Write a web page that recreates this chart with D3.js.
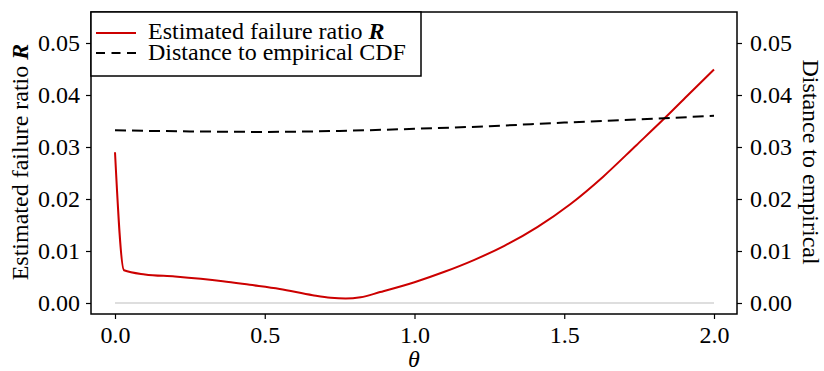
<!DOCTYPE html>
<html><head><meta charset="utf-8">
<script src="https://cdn.jsdelivr.net/npm/d3@7"></script>
<style>
html,body{margin:0;padding:0;background:#fff;}
svg text{font-family:"Liberation Serif","Times New Roman",Tinos,serif;}
</style></head>
<body>
<svg id="chart" width="824" height="371"></svg>
<script>
// ---- data ----
const thetaRed = [0.0, 0.03, 0.1, 0.2, 0.36, 0.45, 0.55, 0.66, 0.72, 0.77, 0.82, 0.885, 1.0, 1.1, 1.2, 1.3, 1.41, 1.52, 1.63, 1.74, 1.84, 1.91, 2.0];
const failureRatio = [0.0290, 0.0063, 0.0055, 0.0051, 0.0042, 0.0035, 0.0027, 0.0015, 0.0010, 0.00085, 0.0011, 0.0021, 0.0040, 0.0060, 0.0083, 0.0110, 0.0146, 0.0190, 0.0243, 0.0303, 0.0358, 0.0398, 0.0449];
const thetaDist = [0.0, 0.25, 0.5, 0.75, 1.0, 1.25, 1.5, 1.75, 2.0];
const distanceCDF = [0.0332, 0.0330, 0.0329, 0.0331, 0.0335, 0.0340, 0.0347, 0.0353, 0.0360];
const xTicks = [0.0, 0.5, 1.0, 1.5, 2.0];
const yTicks = [0.00, 0.01, 0.02, 0.03, 0.04, 0.05];
const legendLabels = ["Estimated failure ratio", "Distance to empirical CDF"];

const svg = d3.select("#chart");
const L = 91, R = 737, T = 12, B = 314;
const x = d3.scaleLinear().domain([0, 2]).range([115, 714]);
const y = d3.scaleLinear().domain([0, 0.05]).range([303, 43]);
const yR = y.copy();
const FS = 24;

// zero reference line
svg.append("line").attr("x1", x(0)).attr("x2", x(2)).attr("y1", y(0)).attr("y2", y(0))
  .attr("stroke", "#bdbdbd").attr("stroke-width", 1.2);

// lines
const lineRed = d3.line().x((d,i)=>x(thetaRed[i])).y(d=>y(d)).curve(d3.curveMonotoneX);
svg.append("path").datum(failureRatio).attr("d", lineRed)
  .attr("fill","none").attr("stroke","#cc0000").attr("stroke-width",2);
const lineDist = d3.line().x((d,i)=>x(thetaDist[i])).y(d=>yR(d)).curve(d3.curveMonotoneX);
svg.append("path").datum(distanceCDF).attr("d", lineDist)
  .attr("fill","none").attr("stroke","#000").attr("stroke-width",2).attr("stroke-dasharray","11,6");

// frame
svg.append("rect").attr("x",L).attr("y",T).attr("width",R-L).attr("height",B-T)
  .attr("fill","none").attr("stroke","#000").attr("stroke-width",1.5);

// axes
function styleAxis(g){
  g.attr("font-family",null).attr("font-size",null);
  g.select(".domain").remove();
  g.selectAll(".tick line").attr("stroke","#000").attr("stroke-width",1.2);
  g.selectAll(".tick text").attr("font-size",FS).attr("fill","#000");
}
svg.append("g").attr("transform",`translate(0,${B})`)
  .call(d3.axisBottom(x).tickValues(xTicks).tickFormat(d3.format(".1f")).tickSize(5).tickPadding(7))
  .call(styleAxis);
svg.append("g").attr("transform",`translate(${L},0)`)
  .call(d3.axisLeft(y).tickValues(yTicks).tickFormat(d3.format(".2f")).tickSize(5).tickPadding(6))
  .call(styleAxis);
svg.append("g").attr("transform",`translate(${R},0)`)
  .call(d3.axisRight(yR).tickValues(yTicks).tickFormat(d3.format(".2f")).tickSize(5).tickPadding(8))
  .call(styleAxis);

// helper: plain text followed by bold-italic "R" as a separate text element
function labelWithR(g, str){
  const a = g.append("text").attr("x",0).attr("y",0).attr("font-size",FS).attr("fill","#000").text(str);
  const w = a.node().getComputedTextLength() + FS*0.25;
  const b = g.append("text").attr("x",w).attr("y",0).attr("font-size",FS).attr("fill","#000")
    .attr("font-weight","bold").attr("font-style","italic").text("R");
  return w + b.node().getComputedTextLength();
}

// left axis title
const ylg = svg.append("g");
const ylw = labelWithR(ylg, legendLabels[0]);
ylg.attr("transform",`translate(28,${162 + ylw/2}) rotate(-90)`);

// right axis title
svg.append("text").attr("transform","translate(803,162) rotate(90)")
  .attr("text-anchor","middle").attr("font-size",FS).attr("fill","#000").text("Distance to empirical");
// x axis title
svg.append("text").attr("x",414).attr("y",367).attr("text-anchor","middle")
  .attr("font-size",FS).attr("font-style","italic").attr("fill","#000").text("θ");

// legend
const lg = svg.append("g");
lg.append("rect").attr("x",L).attr("y",T).attr("width",421-L).attr("height",76-T)
  .attr("fill","#fff").attr("stroke","#000").attr("stroke-width",1.5);
lg.append("line").attr("x1",96).attr("x2",136).attr("y1",33).attr("y2",33)
  .attr("stroke","#cc0000").attr("stroke-width",2);
lg.append("line").attr("x1",96).attr("x2",136).attr("y1",53).attr("y2",53)
  .attr("stroke","#000").attr("stroke-width",2).attr("stroke-dasharray","9,6.5");
const row1 = lg.append("g").attr("transform","translate(148,39)");
labelWithR(row1, legendLabels[0]);
lg.append("text").attr("x",148).attr("y",60).attr("font-size",FS).attr("fill","#000").text(legendLabels[1]);
</script>
</body></html>
